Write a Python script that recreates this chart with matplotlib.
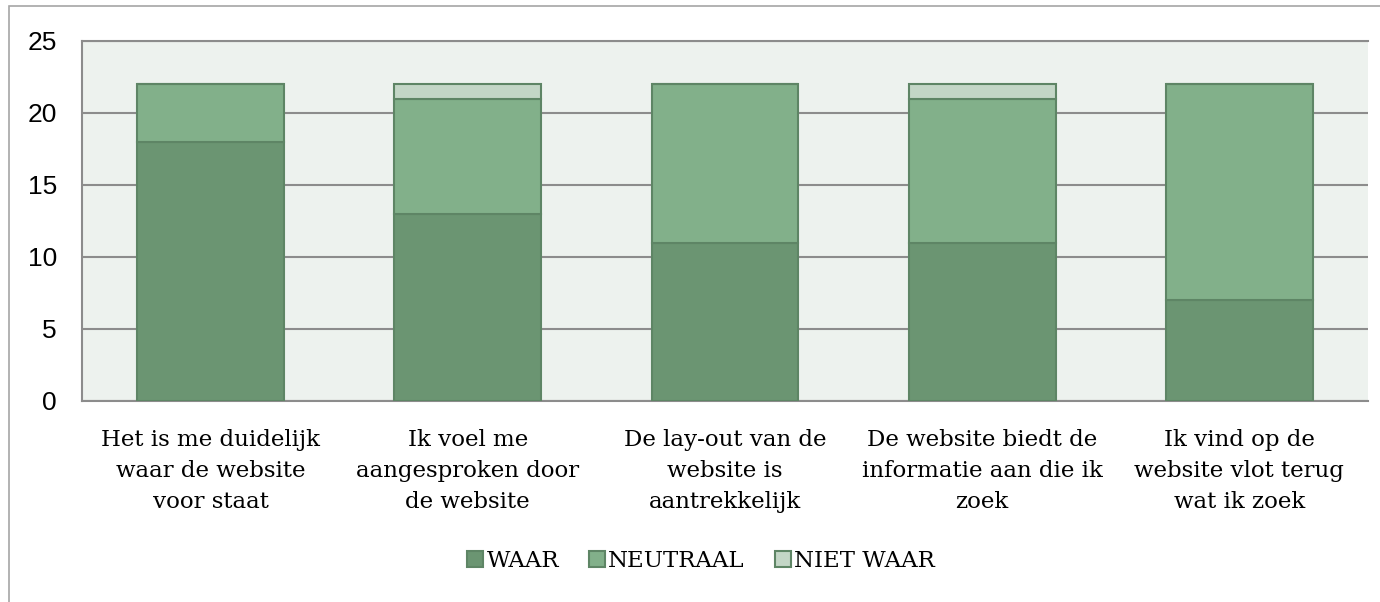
import numpy as np
import matplotlib.pyplot as plt
from matplotlib.patches import Rectangle

categories = ['Het is me duidelijk\nwaar de website\nvoor staat',
              'Ik voel me\naangesproken door\nde website',
              'De lay-out van de\nwebsite is\naantrekkelijk',
              'De website biedt de\ninformatie aan die ik\nzoek',
              'Ik vind op de\nwebsite vlot terug\nwat ik zoek']
waar = [18, 13, 11, 11, 7]
neutraal = [4, 8, 11, 10, 15]
niet_waar = [0, 1, 0, 1, 0]

serif = ['DejaVu Serif']
fig = plt.figure(figsize=(13.8, 6.02), dpi=100)
ax = fig.add_axes([82/1380, 1-401/602, (1368-82)/1380, 360/602])
ax.set_facecolor('#EDF2EE')

# outer chart border
fig.patches.append(Rectangle((9/1380, -0.05), 1.1, 1.05-6/602, transform=fig.transFigure,
                             fill=False, edgecolor='#A6A6A6', linewidth=1.2))

x = np.arange(len(categories))
w = 0.57
edge = '#5E8565'
ax.bar(x, waar, w, color='#6B9572', edgecolor=edge, linewidth=1.5, label='WAAR', zorder=3)
ax.bar(x, neutraal, w, bottom=waar, color='#82B08A', edgecolor=edge, linewidth=1.5,
       label='NEUTRAAL', zorder=3)
bot2 = np.array(waar) + np.array(neutraal)
ax.bar(x, niet_waar, w, bottom=bot2, color='#C3D6C6', edgecolor=edge, linewidth=1.5,
       label='NIET WAAR', zorder=3)

ax.set_xlim(-0.5, 4.5)
ax.set_ylim(0, 25)
ax.set_yticks([0, 5, 10, 15, 20, 25])
ax.yaxis.grid(True, color='#8C8C8C', linewidth=1.5, zorder=0)
ax.set_axisbelow(True)
for s in ['left', 'top', 'bottom']:
    ax.spines[s].set_color('#8C8C8C')
    ax.spines[s].set_linewidth(1.5)
ax.spines['right'].set_visible(False)
ax.tick_params(axis='y', length=0, pad=18, labelsize=19)
ax.tick_params(axis='x', length=0, pad=20)
for t in ax.get_yticklabels():
    t.set_family('Liberation Sans')
ax.set_xticks(x)
ax.set_xticklabels(categories, family=serif, fontsize=16.5, linespacing=1.55)

leg = ax.legend(loc='center', bbox_to_anchor=(701/1380, 1-561/602), bbox_transform=fig.transFigure,
                ncol=3, frameon=False, prop={'family': serif, 'size': 16.5},
                handlelength=0.7, handleheight=0.7, handletextpad=0.15, columnspacing=1.3)

fig.savefig('out.png', dpi=100)
